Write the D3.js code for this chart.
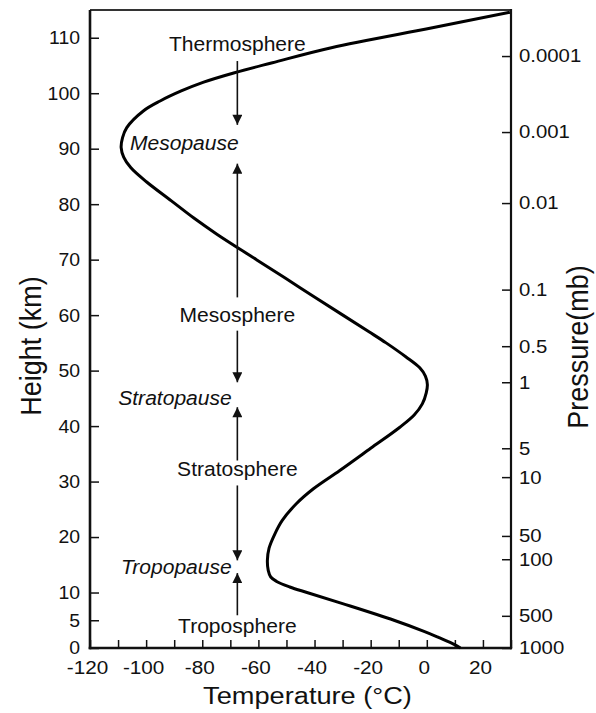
<!DOCTYPE html>
<html>
<head>
<meta charset="utf-8">
<script src="https://cdn.jsdelivr.net/npm/d3@7"></script>
<style>
  html, body { margin: 0; padding: 0; background: #fff; }
  svg { display: block; font-family: "Liberation Sans", Arial, sans-serif; }
</style>
</head>
<body>
<svg id="chart" width="596" height="713"></svg>
<script>
// ---- Data ----
// Temperature profile: height (km) and temperature (°C)
const profileHeights = [0, 1, 2, 3, 5, 8, 10, 11, 12, 12.8, 14, 15.8, 18, 20.5, 23, 26, 28.7, 32, 36, 39.8, 42, 44, 46, 47.5, 49, 50.5, 52.5, 55, 57, 60, 65, 70, 74.6, 77.5, 80.6, 84, 86.6, 88.5, 90.2, 92, 93.8, 96.8, 98.6, 100.4, 102, 103.7, 105.5, 108.2, 111.8, 114.6];
const profileTemps   = [12, 8.3, 3.8, -1, -11.7, -30, -42.7, -48.8, -53.5, -55.6, -56.5, -56.8, -56.2, -54.2, -51.5, -46.5, -40.4, -31, -20, -9.6, -4.5, -1.6, -0.2, 0.2, -0.5, -2.5, -7.5, -14.5, -20.6, -29.9, -45.3, -60.7, -74.8, -83, -91, -99.8, -105.5, -108, -108.9, -108.4, -106.9, -101, -95, -87.5, -79.5, -68.5, -55, -34, 2, 29.6];

// Axis ticks
const heightTicks = [0, 5, 10, 20, 30, 40, 50, 60, 70, 80, 90, 100, 110];
const tempTicks = [-120, -110, -100, -90, -80, -70, -60, -50, -40, -30, -20, -10, 0, 10, 20, 30];
const tempLabelTicks = [-120, -100, -80, -60, -40, -20, 0, 20];
const pressureLabels = ["0.0001", "0.001", "0.01", "0.1", "0.5", "1", "5", "10", "50", "100", "500", "1000"];
const pressureHeights = [106.7, 93.0, 80.2, 64.6, 54.4, 47.9, 36.0, 30.8, 20.2, 16.0, 5.8, 0];

// Layer annotations
const layerNames   = ["Thermosphere", "Mesopause", "Mesosphere", "Stratopause", "Stratosphere", "Tropopause", "Troposphere"];
const layerHeights = [108.9, 91.0, 60.1, 45.1, 32.2, 14.6, 4.0];
const layerItalic  = [false, true, false, true, false, true, false];
const layerTemps   = [-67.5, -67.0, -67.5, -69.5, -67.5, -69.5, -67.5];
const arrowTemp = -67.5;
const arrowFrom = [105.8, 63.2, 57.2, 33.8, 29.3, 5.9];
const arrowTo   = [94.3, 87.3, 47.9, 43.4, 15.8, 13.5];

// ---- Layout ----
const svg = d3.select("#chart");
const L = 90, R = 511, T = 10, B = 648;
const x = d3.scaleLinear().domain([-120, 30]).range([L, R]);
const y = d3.scaleLinear().domain([0, 115]).range([B, T]);
const FONT = "'Liberation Sans', Arial, sans-serif";

// Arrow marker
svg.append("defs").append("marker")
  .attr("id", "ah").attr("viewBox", "0 0 10 10")
  .attr("refX", 10).attr("refY", 5)
  .attr("markerWidth", 14).attr("markerHeight", 10)
  .attr("markerUnits", "userSpaceOnUse")
  .attr("orient", "auto")
  .append("path").attr("d", "M0,0 L10,5 L0,10 Z").attr("fill", "#111");

// Top frame line
svg.append("line").attr("x1", L).attr("x2", R).attr("y1", T).attr("y2", T)
  .attr("stroke", "#333").attr("stroke-width", 1.8);

// Left axis
const gL = svg.append("g").attr("transform", `translate(${L},0)`)
  .call(d3.axisLeft(y).tickValues(heightTicks).tickSizeInner(-9).tickSizeOuter(0).tickPadding(10).tickFormat(d => String(d)));
// Right axis
const gR = svg.append("g").attr("transform", `translate(${R},0)`)
  .call(d3.axisRight(y).tickValues(pressureHeights).tickSizeInner(-9).tickSizeOuter(0).tickPadding(8)
    .tickFormat((d, i) => pressureLabels[i]));
// Bottom axis
const gB = svg.append("g").attr("transform", `translate(0,${B})`)
  .call(d3.axisBottom(x).tickValues(tempTicks).tickSizeInner(-8).tickSizeOuter(0).tickPadding(13)
    .tickFormat(d => tempLabelTicks.includes(d) ? String(d) : ""));

// stretch tick labels horizontally like the reference
function stretch(g, sx, dx) {
  g.selectAll(".tick text").each(function () {
    const t = d3.select(this);
    const tx = +t.attr("x") || 0, ty = +t.attr("y") || 0;
    t.attr("x", 0).attr("y", 0)
      .attr("transform", `translate(${tx + dx},${ty}) scale(${sx},1)`);
  });
}
[gL, gR, gB].forEach(g => {
  g.selectAll("text").attr("font-size", 18.5).attr("fill", "#111").attr("font-family", FONT);
  g.selectAll(".tick line").attr("stroke", "#111").attr("stroke-width", 1.5);
});
stretch(gL, 1.05, 0);
stretch(gR, 1.1, 0);
stretch(gB, 1.12, -3);
gL.select(".domain").attr("stroke", "#111").attr("stroke-width", 2.6).attr("d", `M0,${B + 1.3}V${T}`);
gR.select(".domain").attr("stroke", "#111").attr("stroke-width", 2.2).attr("d", `M0,${B + 1.3}V${T - 0.9}`);
gB.select(".domain").attr("stroke", "#111").attr("stroke-width", 2.6).attr("d", `M${L - 1.3},0H${R + 1.1}`);

// Temperature profile
const pts = profileHeights.map((h, i) => [profileTemps[i], h]);
svg.append("path").datum(pts)
  .attr("fill", "none").attr("stroke", "#000").attr("stroke-width", 3)
  .attr("stroke-linejoin", "round")
  .attr("d", d3.line().x(d => x(d[0])).y(d => y(d[1])).curve(d3.curveCatmullRom.alpha(0.5)));

// Arrows
svg.append("g").selectAll("line").data(arrowFrom).join("line")
  .attr("x1", x(arrowTemp)).attr("x2", x(arrowTemp))
  .attr("y1", d => y(d)).attr("y2", (d, i) => y(arrowTo[i]))
  .attr("stroke", "#111").attr("stroke-width", 1.6)
  .attr("marker-end", "url(#ah)");

// Layer labels
svg.append("g").selectAll("text").data(layerNames).join("text")
  .attr("transform", (d, i) => `translate(${x(layerTemps[i])},${y(layerHeights[i])}) scale(1.08,1)`)
  .attr("dy", "0.36em")
  .attr("text-anchor", (d, i) => layerItalic[i] ? "end" : "middle")
  .attr("font-style", (d, i) => layerItalic[i] ? "italic" : "normal")
  .attr("font-size", 19.5).attr("fill", "#111")
  .text(d => d);

// Axis titles
svg.append("text").attr("transform", `translate(${(L + R) / 2 + 7},704) scale(1.11,1)`)
  .attr("text-anchor", "middle").attr("font-size", 24.5).attr("fill", "#111")
  .text("Temperature (°C)");
svg.append("text").attr("transform", `translate(41,346) rotate(-90) scale(1,1.1)`)
  .attr("text-anchor", "middle").attr("font-size", 27).attr("fill", "#111")
  .text("Height (km)");
svg.append("text").attr("transform", `translate(588,347) rotate(-90) scale(1,1.08)`)
  .attr("text-anchor", "middle").attr("font-size", 27).attr("fill", "#111")
  .text("Pressure(mb)");
</script>
</body>
</html>
